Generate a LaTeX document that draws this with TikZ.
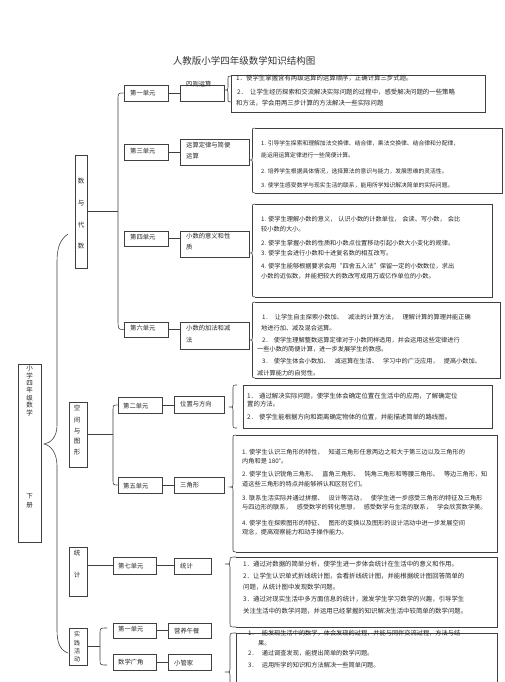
\documentclass[tikz,border=0pt]{standalone}
\usepackage{fontspec}
\setmainfont{Noto Sans CJK SC}
\usetikzlibrary{calc}
\newcommand{\bx}[6][boxs]{\node[#1, minimum width={(#5-#3)*1pt}, minimum height={(#6-#4)*1pt}] (#2) at ({(#3+#5)/2},{(#4+#6)/2}) {};}
\newcommand{\txl}[5][]{\node[txt,#1] (#2) at (#3,#4) {#5};}
\newcommand{\mybrc}[6]{\draw[brc] (#1,#4) .. controls (#2,#4) .. (#2,#4+4) -- (#2,#5-3) .. controls (#2,#5) .. (#3,#5) .. controls (#2,#5) .. (#2,#5+3) -- (#2,#6-4) .. controls (#2,#6) .. (#1,#6);}
\newcommand{\gp}{\hspace{5pt}}
\begin{document}
\begin{tikzpicture}[x=1pt,y=-1pt,
  boxs/.style={draw=black!75, rectangle, inner sep=0pt, line width=0.6pt},
  nobox/.style={rectangle, inner sep=0pt},
  brc/.style={draw=black!75, line width=0.6pt},
  ln/.style={draw=black!75, line width=0.6pt},
  txt/.style={anchor=west, inner sep=0pt, text=black!85, font=\fontsize{6.2}{7}\selectfont},
  ulab/.style={anchor=west, inner sep=0pt, text=black!85, font=\fontsize{6.3}{7}\selectfont},
  vch/.style={inner sep=0pt, text=black!85, font=\fontsize{6.5}{7}\selectfont},
  f64/.style={font=\fontsize{6.4}{7}\selectfont},
  f58/.style={font=\fontsize{5.8}{7}\selectfont}]
\useasboundingbox (0,0) rectangle (504,682);
\clip (0,0) rectangle (504,682);
\fill[white] (0,0) rectangle (504,682);

% title
\node[inner sep=0pt, text=black!80, font=\fontsize{9.5}{11}\selectfont] (title) at (244,61) {人教版小学四年级数学知识结构图};

% root
\bx{root}{18}{364}{41}{542}
\foreach \ch [count=\i] in {小,学,四,年,级,数,学} \node[vch] (r\i) at (29.5,{360.5+7.5*\i}) {\ch};
\node[vch] (rx1) at (29.5,496) {下};
\node[vch] (rx2) at (29.5,505) {册};

% level-1 boxes
\bx{g1}{75}{155}{87}{268}
\bx{g2}{69}{402}{87}{467}
\bx{g3}{69}{547}{87}{596}
\bx{g4}{69}{628}{87}{665}
\foreach \ch/\yy in {数/181,与/203,代/225,数/246} \node[vch] (ga\yy) at (81,\yy) {\ch};
\foreach \ch/\yy in {空/408,间/420,与/431,图/441,形/452} \node[vch] (gb\yy) at (77,\yy) {\ch};
\foreach \ch/\yy in {统/553,计/575} \node[vch] (gc\yy) at (77,\yy) {\ch};
\foreach \ch/\yy in {实/634,践/643,活/651,动/659} \node[vch, font=\fontsize{6}{7}\selectfont] (gd\yy) at (77,\yy) {\ch};

% root bracket
\coordinate (rt) at (68,234);
\coordinate (rb) at (68,653);
\draw[ln] (rt) .. controls (59,240) and (57,250) .. (57,262) -- (57,425) .. controls (57,438) and (50,443) .. (44,444) .. controls (50,445) and (57,452) .. (57,466) -- (57,630) .. controls (57,643) and (60,650) .. (rb);

% unit boxes - 数与代数
\bx{u1}{124}{85}{168}{101}
\bx{t1}{180}{85}{224}{101}
\bx{u3}{124}{144}{168}{160}
\bx{t3}{180}{139}{249}{165}
\bx{u4}{124}{231}{168}{246}
\bx{t4}{180}{231}{249}{257}
\bx{u6}{124}{322}{168}{337}
\bx{t6}{180}{322}{249}{349}
\node[ulab] (lu1) at (130,93) {第一单元};
\node[ulab] (lt1) at (186,84) {四则运算};
\node[ulab] (lu3) at (130,151) {第三单元};
\node[ulab] (lt3a) at (186,145) {运算定律与简便};
\node[ulab] (lt3b) at (186,156) {运算};
\node[ulab] (lu4) at (130,237) {第四单元};
\node[ulab] (lt4a) at (186,236) {小数的意义和性};
\node[ulab] (lt4b) at (186,247) {质};
\node[ulab] (lu6) at (130,328) {第六单元};
\node[ulab] (lt6a) at (186,328) {小数的加法和减};
\node[ulab] (lt6b) at (186,340) {法};
\draw[ln] (u1.east) -- (u1.east -| t1.west);
\draw[ln] (u3.east) -- (u3.east -| t3.west);
\draw[ln] (u4.east) -- (u4.east -| t4.west);
\draw[ln] (u6.east) -- (u6.east -| t6.west);
\coordinate (s1) at (118,0);
\draw[ln] (u1.west) .. controls (118,93) .. (118,101) -- (118,318) .. controls (118,329.5) .. (u6.west);
\draw[ln] (g1.east) -- (g1.east -| s1);

% 空间与图形
\bx{u2}{118}{397}{162}{413}
\bx{t2}{174}{396}{224}{413}
\bx{u5}{118}{477}{162}{493}
\bx{t5}{174}{477}{224}{493}
\node[ulab] (lu2) at (123,406) {第二单元};
\node[ulab] (lt2) at (180,404) {位置与方向};
\node[ulab] (lu5) at (123,486) {第五单元};
\node[ulab] (lt5) at (180,485) {三角形};
\draw[ln] (u2.east) -- (u2.east -| t2.west);
\draw[ln] (u5.east) -- (u5.east -| t5.west);
\coordinate (s2) at (113,0);
\draw[ln] (u2.west) .. controls (113,405) .. (113,411) -- (113,479) .. controls (113,485) .. (u5.west);
\draw[ln] (g2.east) -- (g2.east -| s2);

% 统计
\bx{u7}{113}{557}{156}{574}
\bx{t7}{174}{558}{211}{574}
\node[ulab] (lu7) at (118,566) {第七单元};
\node[ulab] (lt7) at (180,566) {统计};
\draw[ln] (u7.west -| g3.east) -- (u7.west);
\draw[ln] (u7.east) -- (u7.east -| t7.west);

% 实践活动
\bx{u8}{113}{623}{156}{638}
\bx{t8}{168}{623}{211}{638}
\bx{u9}{113}{654}{156}{670}
\bx{t9}{168}{654}{211}{670}
\node[ulab] (lu8) at (118,629) {第一单元};
\node[ulab] (lt8) at (174,631) {营养午餐};
\node[ulab] (lu9) at (118,662) {数学广角};
\node[ulab] (lt9) at (174,663) {小管家};
\draw[ln] (u8.east) -- (u8.east -| t8.west);
\draw[ln] (u9.east) -- (u9.east -| t9.west);
\coordinate (s4) at (100,0);
\coordinate (p4t) at (107,628);
\coordinate (p4b) at (107,665);
\draw[ln] (p4t) .. controls (100,628) .. (100,634) -- (100,659) .. controls (100,665) .. (p4b);
\draw[ln] (g4.east) -- (g4.east -| s4);

% content boxes
% c1 四则运算
\bx{c1}{231}{75}{485}{112}
\mybrc{231}{228}{224}{76}{90}{102}
\txl[f64]{c1a}{236}{78}{1．使学生掌握含有两级运算的运算顺序，正确计算三步式题。}
\txl[f64]{c1b}{237}{92}{2．\hspace{3pt}让学生经历探索和交流解决实际问题的过程中，感受解决问题的一些策略}
\txl[f64]{c1c}{236}{103}{和方法，学会用两三步计算的方法解决一些实际问题}

% c3 运算定律
\bx[nobox]{c3}{255}{128}{502}{193}
\draw[ln] (c3.north west) -- (c3.north east) -- (c3.south east) -- (c3.south west);
\mybrc{255}{252.5}{249}{128}{160}{193}
\txl[f58]{c3a}{261}{143}{1. 引导学生探索和理解加法交换律、结合律，乘法交换律、结合律和分配律，}
\txl[f58]{c3b}{261}{155}{能运用运算定律进行一些简便计算。}
\txl[f58]{c3c}{261}{171}{2. 培养学生根据具体情况，选择算法的意识与能力，发展思维的灵活性。}
\txl[f58]{c3d}{261}{185}{3. 使学生感受数学与现实生活的联系，能用所学知识解决简单的实际问题。}

% c4 小数的意义
\bx[nobox]{c4}{255}{204}{492}{297}
\draw[ln] (c4.north west) -- (c4.north east) -- (c4.south east) -- (c4.south west);
\mybrc{255}{252.5}{249}{204}{253}{297}
\txl{c4a}{261}{219}{1. 使学生理解小数的意义，\hspace{2pt}认识小数的计数单位，\hspace{2pt}会读、写小数，\hspace{2pt}会比}
\txl{c4b}{261}{229}{较小数的大小。}
\txl{c4c}{261}{243}{2. 使学生掌握小数的性质和小数点位置移动引起小数大小变化的规律。}
\txl{c4d}{261}{253}{3. 使学生会进行小数和十进复名数的相互改写。}
\txl{c4e}{261}{266}{4. 使学生能够根据要求会用“四舍五入法”保留一定的小数数位，求出}
\txl{c4f}{261}{276}{小数的近似数，并能把较大的数改写成用万或亿作单位的小数。}

% c6 小数的加法和减法
\bx[nobox]{c6}{255}{302}{500}{378}
\draw[ln] (c6.north west) -- (c6.north east) -- (c6.south east) -- (c6.south west);
\mybrc{255}{252.5}{249}{302}{340}{378}
\txl{c6a}{262}{317}{1．\hspace{3pt}让学生自主探索小数加、\gp 减法的计算方法，\gp 理解计算的算理并能正确}
\txl{c6b}{261}{328}{地进行加、减及混合运算。}
\txl{c6c}{262}{340}{2．\hspace{2pt}使学生理解整数运算定律对于小数同样适用，并会运用这些定律进行}
\txl{c6d}{257}{349}{一些小数的简便计算，进一步发展学生的数感。}
\txl{c6e}{262}{361}{3．\hspace{2pt}使学生体会小数加、\gp 减运算在生活、\gp 学习中的广泛应用，\gp 提高小数加、}
\txl{c6f}{257}{373}{减计算能力的自觉性。}

% c5 位置与方向
\bx{c5}{243}{385}{492}{428}
\mybrc{237}{233}{229}{385}{407}{428}
\txl[f64]{c5a}{247}{396}{1．\hspace{2pt}通过解决实际问题，使学生体会确定位置在生活中的应用，了解确定位}
\txl[f64]{c5b}{247}{404}{置的方法。}
\txl[f64]{c5c}{247}{417}{2．\hspace{2pt}使学生能根据方向和距离确定物体的位置，并能描述简单的路线图。}

% c2 三角形
\bx[nobox]{c2}{236}{435}{497}{552}
\draw[ln] (c2.north west) -- (c2.north east) -- (c2.south east) -- (c2.south west);
\mybrc{236}{233}{230}{435}{487}{552}
\txl{c2a}{242}{452}{1. 使学生认识三角形的特性，\gp 知道三角形任意两边之和大于第三边以及三角形的}
\txl{c2b}{242}{461}{内角和是 180°。}
\txl{c2c}{242}{474}{2. 使学生认识锐角三角形、\gp 直角三角形、\gp 钝角三角形和等腰三角形、\gp 等边三角形，知}
\txl{c2d}{242}{484}{道这些三角形的特点并能够辨认和区别它们。}
\txl{c2e}{242}{498}{3. 联系生活实际并通过拼摆、\gp 设计等活动，\gp 使学生进一步感受三角形的特征及三角形}
\txl{c2f}{242}{507}{与四边形的联系，\gp 感受数学的转化思想，\gp 感受数学与生活的联系，\gp 学会欣赏数学美。}
\txl{c2g}{242}{523}{4. 使学生在探索图形的特征、\gp 图形的变换以及图形的设计活动中进一步发展空间}
\txl{c2h}{242}{532}{观念，提高观察能力和动手操作能力。}

% c7 统计
\bx[nobox]{c7}{236}{557}{497}{627}
\draw[ln] (c7.north west) -- (c7.north east) -- (c7.south east) -- (c7.south west);
\mybrc{236}{230}{225}{557}{564}{627}
\txl[f64]{c7a}{243}{564}{1．通过对数据的简单分析，使学生进一步体会统计在生活中的意义和作用。}
\txl[f64]{c7b}{243}{576}{2．让学生认识单式折线统计图，会看折线统计图，并能根据统计图回答简单的}
\txl[f64]{c7c}{243}{587}{问题，从统计图中发现数学问题。}
\txl[f64]{c7d}{243}{599}{3．通过对现实生活中多方面信息的统计，激发学生学习数学的兴趣，引导学生}
\txl[f64]{c7e}{243}{611}{关注生活中的数学问题，并运用已经掌握的知识解决生活中较简单的数学问题。}

% c8 实践活动
\bx[nobox]{c8}{236}{633}{497}{700}
\draw[ln] (c8.south west) -- (c8.north west) -- (c8.north east) -- (c8.south east);
\mybrc{236}{230}{225}{633}{672}{700}
\txl{c8a}{248}{633}{1．\hspace{4pt}能发现生活中的数学，体会发现的过程，并能与同伴交流过程，方法与结}
\txl{c8b}{258}{643}{果。}
\txl{c8c}{248}{653}{2．\hspace{4pt}通过调查发现，能提出简单的数学问题。}
\txl{c8d}{248}{665}{3．\hspace{4pt}运用所学的知识和方法解决一些简单问题。}
\end{tikzpicture}
\end{document}
